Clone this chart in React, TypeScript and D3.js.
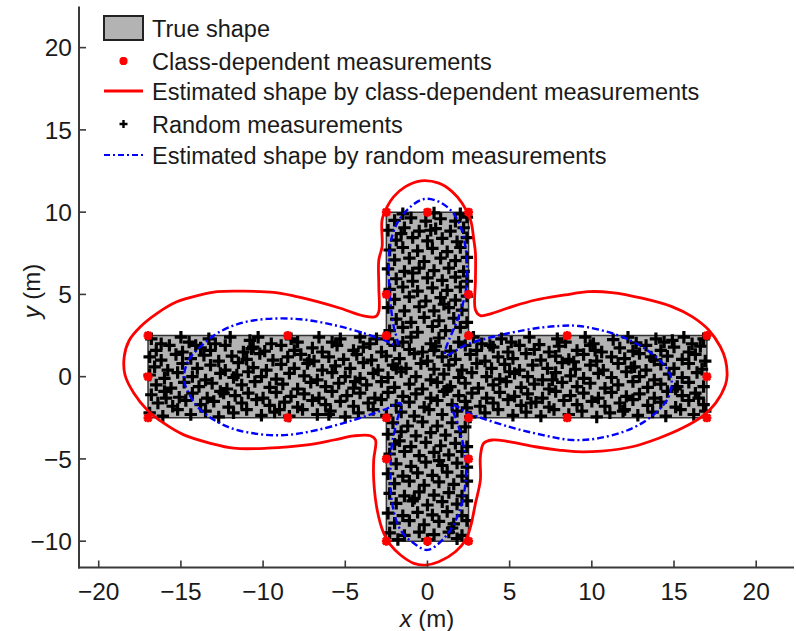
import React from "react";
import * as d3 from "d3";

// ---------- data ----------
const xTicks = [-20, -15, -10, -5, 0, 5, 10, 15, 20];
const yTicks = [-10, -5, 0, 5, 10, 15, 20];

// true shape: cross polygon vertices
const trueShape: [number, number][] = [
  [-17, 2.5], [-2.5, 2.5], [-2.5, 10], [2.5, 10], [2.5, 2.5], [17, 2.5],
  [17, -2.5], [2.5, -2.5], [2.5, -10], [-2.5, -10], [-2.5, -2.5], [-17, -2.5],
];

// class-dependent measurements
const classMeas: [number, number][] = [
  [-17, 2.5], [-17, 0], [-17, -2.5], [17, 2.5], [17, 0], [17, -2.5],
  [-8.5, 2.5], [-8.5, -2.5], [8.5, 2.5], [8.5, -2.5],
  [-2.5, 2.5], [2.5, 2.5], [-2.5, -2.5], [2.5, -2.5],
  [-2.5, 5], [2.5, 5], [-2.5, -5], [2.5, -5],
  [-2.5, 10], [0, 10], [2.5, 10], [-2.5, -10], [0, -10], [2.5, -10],
];

// estimated shape by class-dependent measurements (red)
const redShape: [number, number][] = [
  [-18.4, 0.1], [-18.45, 1.2], [-18.15, 2.2], [-17.45, 3.05], [-16.45, 3.85], [-15.25, 4.55],
  [-13.8, 4.97], [-12.8, 5.17], [-11.2, 5.2], [-9.35, 5.12], [-8.1, 4.9], [-6.7, 4.56],
  [-5.3, 4.16], [-3.9, 3.7], [-3.15, 3.65], [-2.96, 3.95], [-2.96, 5.47], [-2.96, 7.09],
  [-2.76, 7.9], [-2.76, 9.53], [-2.45, 10.33], [-2.05, 10.94], [-1.34, 11.55], [-0.4, 11.9],
  [0.69, 11.76], [1.5, 11.25], [2.11, 10.54], [2.62, 9.53], [2.82, 8.31], [2.92, 7.5],
  [2.92, 5.88], [2.92, 4.05], [3.22, 3.71], [3.93, 3.85], [5.15, 4.26], [6.57, 4.66],
  [8.38, 4.97], [9.81, 5.17], [11.22, 5.11], [13.05, 4.77], [14.87, 4.26], [16.1, 3.65],
  [17.11, 2.84], [17.82, 1.82], [18.13, 1.02], [18.23, 0.1], [18.13, -0.5], [17.52, -1.62],
  [16.7, -2.43], [15.48, -3.14], [14.07, -3.74], [12.45, -4.26], [10.6, -4.52], [9.0, -4.56],
  [7.99, -4.46], [6.57, -4.26], [4.95, -3.95], [3.93, -3.85], [3.42, -4.05], [3.22, -4.86],
  [3.22, -6.28], [2.92, -7.7], [2.62, -9.12], [2.32, -9.93], [1.7, -10.64], [0.69, -11.25],
  [-0.12, -11.45], [-0.83, -11.35], [-1.64, -10.84], [-2.25, -10.23], [-2.66, -9.52], [-3.06, -8.1],
  [-3.27, -6.28], [-3.27, -5.06], [-3.16, -3.85], [-3.47, -3.59], [-4.48, -3.6], [-5.7, -3.85],
  [-7.32, -4.15], [-9.75, -4.35], [-11.78, -4.35], [-13.2, -4.05], [-14.82, -3.54], [-16.04, -2.83],
  [-17.05, -2.02], [-17.86, -1.01],
];

// estimated shape by random measurements (blue)
const blueShape: [number, number][] = [
  [-14.82, 0], [-14.52, 1.02], [-13.81, 1.82], [-12.79, 2.64], [-11.37, 3.25], [-9.75, 3.51],
  [-7.73, 3.49], [-5.7, 3.14], [-3.87, 2.64], [-2.66, 2.23], [-1.84, 1.93], [-2.05, 3.04],
  [-2.25, 4.46], [-2.35, 6.49], [-2.25, 8.11], [-1.84, 9.33], [-1.03, 10.33], [-0.2, 10.8],
  [0.69, 10.64], [1.5, 10.03], [2.01, 9.12], [2.31, 7.9], [2.41, 6.49], [2.31, 5.07],
  [1.9, 3.65], [1.09, 1.32], [2.5, 2.0], [5.96, 2.84], [7.99, 3.08], [9.2, 3.08],
  [11.23, 2.64], [13.06, 1.82], [14.48, 0.61], [14.85, -0.2], [14.68, -1.22], [13.87, -2.22],
  [12.45, -3.14], [10.42, -3.74], [8.8, -3.85], [6.97, -3.54], [4.95, -3.04], [2.51, -2.22],
  [1.5, -1.72], [1.9, -3.04], [2.31, -4.86], [2.31, -6.48], [1.9, -8.3], [1.09, -9.73],
  [0, -10.53], [-0.83, -10.13], [-1.64, -9.32], [-2.15, -7.7], [-2.25, -5.67], [-2.15, -4.05],
  [-1.84, -2.63], [-1.64, -1.62], [-2.66, -2.02], [-4.48, -2.63], [-6.71, -3.24], [-8.53, -3.54],
  [-10.36, -3.48], [-12.18, -3.04], [-13.81, -2.02], [-14.62, -0.81],
];

// random measurements (x, y pairs)
const randomMeas: number[] = [
  -16.8,2.3, -16.2,2.0, -15.0,2.4, -14.5,2.1, -13.3,2.3, -12.9,2.0, -12.0,2.4, -10.8,2.2, -10.3,2.4, -9.5,2.0,
  -8.3,2.3, -7.9,2.1, -6.6,2.4, -5.8,2.1, -5.3,2.3, -4.1,2.4, -3.5,2.0, -2.4,2.3, -1.5,2.1, -1.0,2.4,
  0.2,2.0, 0.7,2.35, 1.9,2.1, 2.8,2.4, 3.3,2.0, 4.5,2.3, 5.1,2.1, 6.2,2.4, 6.8,1.95, 7.9,2.3,
  8.4,2.1, 9.6,2.4, 10.1,2.0, 11.3,2.25, 12.2,2.4, 12.7,2.05, 13.9,2.3, 14.4,2.1, 15.6,2.4, 16.1,2.0, 16.8,2.3,
  -16.5,1.6, -15.7,1.9, -14.9,1.5, -13.8,1.75, -13.2,1.6, -12.3,1.9, -11.2,1.5, -10.6,1.8, -9.9,1.55, -8.9,1.9,
  -8.1,1.6, -7.0,1.75, -6.4,1.5, -5.5,1.9, -4.5,1.6, -3.9,1.8, -2.8,1.5, -2.0,1.9, -1.1,1.65, -0.3,1.5,
  0.5,1.85, 1.4,1.55, 2.3,1.9, 3.0,1.6, 4.0,1.8, 4.9,1.5, 5.6,1.9, 6.5,1.65, 7.4,1.5, 8.0,1.85,
  9.1,1.6, 9.9,1.9, 10.6,1.5, 11.7,1.75, 12.5,1.55, 13.3,1.9, 14.2,1.6, 15.0,1.8, 15.9,1.5, 16.6,1.85,
  -16.9,1.2, -16.2,1.0, -15.3,1.35, -14.4,1.1, -13.6,1.3, -12.7,0.95, -11.9,1.25, -11.0,1.05, -10.2,1.4, -9.4,1.0,
  -8.5,1.2, -7.7,1.35, -6.9,0.95, -6.0,1.2, -5.1,1.05, -4.3,1.35, -3.4,1.0, -2.5,1.25, -1.7,1.1, -0.8,1.4,
  0.0,0.95, 0.9,1.2, 1.7,1.05, 2.6,1.35, 3.5,0.95, 4.3,1.2, 5.2,1.1, 6.0,1.4, 6.9,1.0, 7.8,1.25,
  8.6,1.05, 9.5,1.35, 10.3,0.95, 11.2,1.2, 12.0,1.1, 12.9,1.4, 13.8,1.0, 14.6,1.25, 15.5,1.05, 16.3,1.35, 16.9,0.95,
  -16.6,0.6, -15.8,0.4, -14.9,0.8, -14.0,0.5, -13.2,0.7, -12.3,0.4, -11.5,0.85, -10.6,0.55, -9.8,0.4, -8.9,0.75,
  -8.1,0.5, -7.3,0.8, -6.4,0.4, -5.6,0.65, -4.7,0.5, -3.9,0.85, -3.0,0.4, -2.1,0.7, -1.3,0.5, -0.4,0.8,
  0.4,0.45, 1.3,0.7, 2.1,0.4, 3.0,0.8, 3.9,0.5, 4.7,0.75, 5.6,0.4, 6.4,0.7, 7.3,0.5, 8.2,0.85,
  9.0,0.45, 9.9,0.7, 10.7,0.4, 11.6,0.8, 12.4,0.55, 13.3,0.4, 14.2,0.75, 15.0,0.5, 15.9,0.8, 16.7,0.45,
  -16.9,0.1, -16.0,-0.1, -15.2,0.25, -14.3,0.0, -13.5,-0.2, -12.6,0.2, -11.8,-0.05, -10.9,0.3, -10.1,0.0, -9.2,-0.15,
  -8.4,0.2, -7.5,0.05, -6.7,-0.2, -5.8,0.25, -5.0,0.0, -4.1,-0.1, -3.3,0.2, -2.4,-0.05, -1.6,0.3, -0.7,0.0,
  0.2,-0.2, 1.0,0.15, 1.9,-0.05, 2.7,0.25, 3.6,0.0, 4.4,-0.15, 5.3,0.2, 6.1,0.0, 7.0,-0.2, 7.8,0.25,
  8.7,0.05, 9.5,-0.1, 10.4,0.2, 11.2,-0.05, 12.1,0.3, 12.9,0.0, 13.8,-0.2, 14.7,0.15, 15.5,-0.05, 16.4,0.25,
  -16.5,-0.5, -15.6,-0.7, -14.8,-0.35, -13.9,-0.6, -13.1,-0.4, -12.2,-0.75, -11.3,-0.5, -10.5,-0.3, -9.6,-0.65, -8.8,-0.45,
  -7.9,-0.75, -7.1,-0.35, -6.2,-0.6, -5.4,-0.4, -4.5,-0.7, -3.7,-0.5, -2.8,-0.3, -2.0,-0.65, -1.1,-0.45, -0.3,-0.75,
  0.6,-0.35, 1.4,-0.6, 2.3,-0.4, 3.1,-0.7, 4.0,-0.5, 4.8,-0.3, 5.7,-0.65, 6.5,-0.45, 7.4,-0.75, 8.2,-0.35,
  9.1,-0.6, 9.9,-0.4, 10.8,-0.7, 11.6,-0.5, 12.5,-0.3, 13.4,-0.65, 14.2,-0.45, 15.1,-0.75, 15.9,-0.35, 16.8,-0.6,
  -16.8,-1.1, -16.0,-0.9, -15.1,-1.25, -14.3,-1.0, -13.4,-1.3, -12.6,-0.9, -11.7,-1.15, -10.9,-1.0, -10.0,-1.3, -9.2,-0.95,
  -8.3,-1.2, -7.5,-1.05, -6.6,-1.3, -5.8,-0.9, -4.9,-1.15, -4.1,-1.0, -3.2,-1.3, -2.4,-0.95, -1.5,-1.2, -0.7,-1.05,
  0.2,-1.3, 1.0,-0.9, 1.9,-1.15, 2.7,-1.0, 3.6,-1.3, 4.4,-0.95, 5.3,-1.2, 6.1,-1.05, 7.0,-1.3, 7.8,-0.9,
  8.7,-1.15, 9.5,-1.0, 10.4,-1.3, 11.2,-0.95, 12.1,-1.2, 12.9,-1.05, 13.8,-1.3, 14.6,-0.9, 15.5,-1.15, 16.3,-1.0,
  -16.4,-1.6, -15.5,-1.8, -14.7,-1.45, -13.8,-1.7, -13.0,-1.5, -12.1,-1.85, -11.3,-1.6, -10.4,-1.4, -9.6,-1.75, -8.7,-1.55,
  -7.9,-1.85, -7.0,-1.45, -6.2,-1.7, -5.3,-1.5, -4.5,-1.8, -3.6,-1.6, -2.8,-1.4, -1.9,-1.75, -1.1,-1.55, -0.2,-1.85,
  0.6,-1.45, 1.5,-1.7, 2.3,-1.5, 3.2,-1.8, 4.0,-1.6, 4.9,-1.4, 5.7,-1.75, 6.6,-1.55, 7.4,-1.85, 8.3,-1.45,
  9.1,-1.7, 10.0,-1.5, 10.8,-1.8, 11.7,-1.6, 12.5,-1.4, 13.4,-1.75, 14.2,-1.55, 15.1,-1.85, 15.9,-1.45, 16.8,-1.7,
  -16.9,-2.2, -16.1,-2.4, -15.2,-2.0, -14.4,-2.3, -13.5,-2.1, -12.7,-2.45, -11.8,-2.2, -11.0,-2.0, -10.1,-2.35, -9.3,-2.15,
  -8.4,-2.4, -7.6,-2.0, -6.7,-2.3, -5.9,-2.1, -5.0,-2.45, -4.2,-2.2, -3.3,-2.0, -2.5,-2.35, -1.6,-2.15, -0.8,-2.4,
  0.1,-2.0, 0.9,-2.3, 1.8,-2.1, 2.6,-2.45, 3.5,-2.2, 4.3,-2.0, 5.2,-2.35, 6.0,-2.15, 6.9,-2.4, 7.7,-2.0,
  8.6,-2.3, 9.4,-2.1, 10.3,-2.45, 11.1,-2.2, 12.0,-2.0, 12.8,-2.35, 13.7,-2.15, 14.5,-2.4, 15.4,-2.0, 16.2,-2.3, 16.9,-2.1,
  -2.3,2.8, -1.5,3.0, -0.6,2.7, 0.3,3.05, 1.1,2.8, 2.0,3.0,
  -1.9,3.5, -1.0,3.3, -0.2,3.6, 0.7,3.4, 1.6,3.55, 2.4,3.3,
  -2.4,4.2, -1.4,4.0, -0.5,4.25, 0.4,4.0, 1.3,4.2, 2.1,4.05,
  -2.0,4.7, -1.1,4.85, -0.1,4.6, 0.8,4.8, 1.7,4.65, 2.4,4.9,
  -2.3,5.3, -1.5,5.45, -0.6,5.2, 0.3,5.4, 1.2,5.25, 2.0,5.45,
  -1.9,5.95, -0.9,5.8, 0.0,6.0, 0.9,5.85, 1.7,6.05, 2.4,5.8,
  -2.4,6.55, -1.4,6.4, -0.5,6.6, 0.4,6.45, 1.3,6.6, 2.2,6.4,
  -2.0,7.1, -1.1,7.2, -0.2,7.0, 0.8,7.2, 1.7,7.05, 2.4,7.25,
  -2.3,7.7, -1.5,7.85, -0.6,7.65, 0.3,7.8, 1.2,7.6, 2.0,7.85,
  -1.9,8.3, -0.9,8.45, 0.0,8.25, 0.9,8.4, 1.8,8.2, 2.4,8.45,
  -2.4,8.9, -1.4,9.05, -0.5,8.85, 0.5,9.0, 1.4,8.85, 2.2,9.05,
  -2.0,9.5, -1.0,9.65, -0.1,9.45, 0.8,9.6, 1.7,9.45, 2.4,9.7,
  -1.5,9.9, 0.4,9.95, 2.0,9.9,
  -2.1,-2.8, -1.2,-3.0, -0.3,-2.75, 0.6,-3.0, 1.5,-2.8, 2.3,-3.05,
  -2.4,-3.5, -1.6,-3.35, -0.7,-3.6, 0.2,-3.4, 1.1,-3.55, 2.0,-3.35,
  -2.0,-4.1, -1.0,-4.25, -0.1,-4.0, 0.8,-4.2, 1.7,-4.05, 2.4,-4.25,
  -2.3,-4.7, -1.4,-4.55, -0.5,-4.8, 0.4,-4.6, 1.3,-4.75, 2.1,-4.55,
  -1.9,-5.3, -1.0,-5.45, -0.1,-5.2, 0.9,-5.4, 1.8,-5.25, 2.4,-5.5,
  -2.4,-5.9, -1.5,-6.05, -0.6,-5.85, 0.3,-6.0, 1.2,-5.8, 2.1,-6.05,
  -2.0,-6.5, -1.1,-6.35, -0.2,-6.6, 0.7,-6.4, 1.6,-6.55, 2.4,-6.35,
  -2.3,-7.1, -1.4,-7.25, -0.5,-7.0, 0.4,-7.2, 1.3,-7.05, 2.1,-7.25,
  -1.9,-7.7, -0.9,-7.55, 0.0,-7.8, 0.9,-7.6, 1.8,-7.75, 2.4,-7.55,
  -2.4,-8.3, -1.5,-8.45, -0.6,-8.25, 0.3,-8.4, 1.2,-8.2, 2.1,-8.45,
  -2.0,-8.9, -1.1,-8.75, -0.2,-9.0, 0.7,-8.8, 1.6,-8.95, 2.4,-8.75,
  -2.3,-9.5, -1.4,-9.65, -0.5,-9.45, 0.4,-9.6, 1.3,-9.45, 2.1,-9.65,
  -1.8,-9.9, 0.0,-9.9, 1.8,-9.85,
  // extra clustered points
  -14.1,1.9, -11.6,0.1, -9.0,-2.0, -7.2,1.0, -4.4,-0.3, -1.9,0.5, 1.2,-0.8, 3.8,1.9, 6.3,-1.6, 8.9,0.9,
  11.9,-2.1, 13.6,1.2, 15.2,-0.6, -15.9,-1.3, -12.4,-1.0, -10.7,1.7, -6.0,-2.3, -3.1,2.3, 0.4,1.6, 2.4,-1.9,
  5.0,0.3, 7.6,-0.2, 10.2,1.6, 12.6,0.6, 14.9,2.2, 16.5,-1.3, -0.9,6.3, 1.0,4.4, -1.6,8.7, 0.7,-5.1,
  -0.8,-7.4, 1.5,-9.2, -1.7,-3.9, 0.2,8.9,
];

const legendLabels = [
  "True shape",
  "Class-dependent measurements",
  "Estimated shape by class-dependent measurements",
  "Random measurements",
  "Estimated shape by random measurements",
];

// ---------- component ----------
const W = 796;
const H = 631;
const FONT = "'Liberation Sans', Arial, Helvetica, sans-serif";
const TXT = "#1a1a1a";
const AX = "#3a3a3a";

export default function App() {
  const x = d3.scaleLinear().domain([-21.2, 22.3]).range([79, 794]);
  const y = d3.scaleLinear().domain([-11.6, 22.5]).range([567.5, 6.5]);

  const closed = d3
    .line<[number, number]>()
    .x((d) => x(d[0]))
    .y((d) => y(d[1]))
    .curve(d3.curveCatmullRomClosed.alpha(0.5));
  const poly = d3
    .line<[number, number]>()
    .x((d) => x(d[0]))
    .y((d) => y(d[1]))
    .curve(d3.curveLinearClosed);

  const pts: [number, number][] = [];
  for (let i = 0; i + 1 < randomMeas.length; i += 2) pts.push([randomMeas[i], randomMeas[i + 1]]);

  const plus = (cx: number, cy: number, r: number) =>
    `M${cx - r},${cy}H${cx + r}M${cx},${cy - r}V${cy + r}`;
  const star = (cx: number, cy: number, r: number) => {
    const d = r * 0.75;
    return `M${cx - r},${cy}H${cx + r}M${cx},${cy - r}V${cy + r}M${cx - d},${cy - d}L${cx + d},${cy + d}M${cx - d},${cy + d}L${cx + d},${cy - d}`;
  };

  const plusPath = pts.map(([a, b]) => plus(x(a), y(b), 6.2)).join("");
  const starPath = classMeas.map(([a, b]) => star(x(a), y(b), 4.5)).join("");

  const fmt = d3.format("d");
  const yAxisX = 79;
  const xAxisY = 567.5;

  const legX = 104;
  const legRows = [28, 61, 91, 124, 155];

  return (
    <svg
      width={W}
      height={H}
      style={{ position: "absolute", left: 0, top: 0, background: "#fff" }}
      fontFamily={FONT}
    >
      {/* true shape */}
      <path d={poly(trueShape) || ""} fill="#b3b3b3" stroke="#333" strokeWidth={1.5} />
      {/* random measurements */}
      <path d={plusPath} stroke="#000" strokeWidth={3.2} fill="none" />
      {/* blue estimate */}
      <path
        d={closed(blueShape) || ""}
        fill="none"
        stroke="#0000ff"
        strokeWidth={2.4}
        strokeDasharray="7 3 2 3"
      />
      {/* red estimate */}
      <path d={closed(redShape) || ""} fill="none" stroke="#ff0000" strokeWidth={2.8} />
      {/* class-dependent measurements */}
      <path d={starPath} stroke="#ff0000" strokeWidth={2.8} fill="none" />

      {/* axes */}
      <line x1={yAxisX} x2={yAxisX} y1={y(22.5)} y2={xAxisY + 1} stroke={AX} strokeWidth={2} />
      <line x1={yAxisX - 1} x2={794} y1={xAxisY} y2={xAxisY} stroke={AX} strokeWidth={2} />
      {xTicks.map((t) => (
        <g key={"xt" + t}>
          <line x1={x(t)} x2={x(t)} y1={xAxisY} y2={xAxisY - 7} stroke={AX} strokeWidth={1.6} />
          <text x={x(t)} y={600} textAnchor="middle" fontSize={24.5} fill={TXT}>
            {t < 0 ? "\u2212" + fmt(-t) : fmt(t)}
          </text>
        </g>
      ))}
      {yTicks.map((t) => (
        <g key={"yt" + t}>
          <line x1={yAxisX} x2={yAxisX + 7} y1={y(t)} y2={y(t)} stroke={AX} strokeWidth={1.6} />
          <text x={72} y={y(t) + 8.8} textAnchor="end" fontSize={24.5} fill={TXT}>
            {t < 0 ? "\u2212" + fmt(-t) : fmt(t)}
          </text>
        </g>
      ))}
      {/* axis titles */}
      <text x={427} y={627} textAnchor="middle" fontSize={24} fill={TXT}>
        <tspan fontStyle="italic">x</tspan> (m)
      </text>
      <text transform={`translate(40,291) rotate(-90)`} textAnchor="middle" fontSize={24} fill={TXT}>
        <tspan fontStyle="italic">y</tspan> (m)
      </text>

      {/* legend */}
      <rect x={legX} y={16} width={39} height={24} fill="#b3b3b3" stroke="#222" strokeWidth={2} />
      <path d={star(legX + 19.5, legRows[1], 4)} stroke="#ff0000" strokeWidth={2.8} fill="none" />
      <line x1={legX} x2={legX + 39} y1={legRows[2]} y2={legRows[2]} stroke="#ff0000" strokeWidth={3.2} />
      <path d={plus(legX + 19.5, legRows[3], 4)} stroke="#000" strokeWidth={2.4} fill="none" />
      <line
        x1={legX}
        x2={legX + 39}
        y1={legRows[4]}
        y2={legRows[4]}
        stroke="#0000ff"
        strokeWidth={2.2}
        strokeDasharray="6 3 2 3"
      />
      {legendLabels.map((l, i) => (
        <text key={l} x={152} y={legRows[i] + 8.5} fontSize={23.5} fill={TXT}>
          {l}
        </text>
      ))}
    </svg>
  );
}
